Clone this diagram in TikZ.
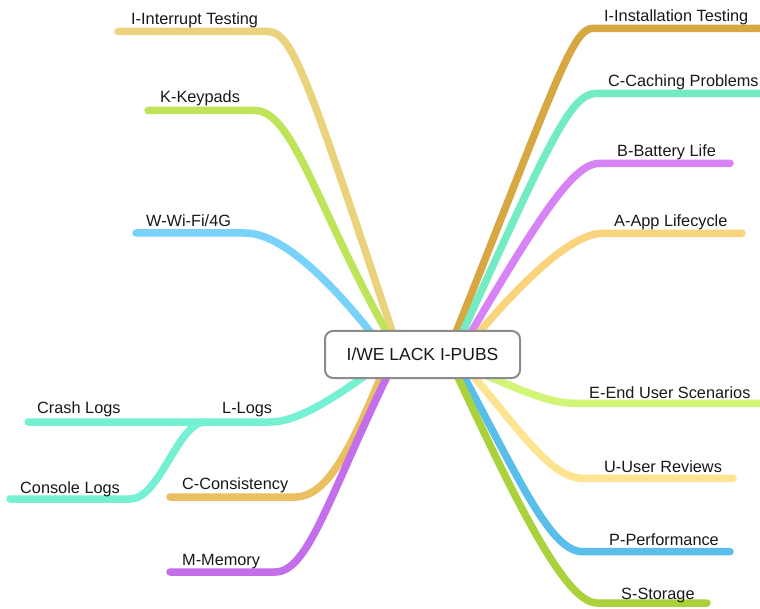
\documentclass[tikz,border=0pt]{standalone}
\usepackage{fontspec}
\setmainfont{Liberation Sans}
\definecolor{cInt}{HTML}{EBD27D}
\definecolor{cKey}{HTML}{BEE45A}
\definecolor{cWifi}{HTML}{78D2FA}
\definecolor{cLog}{HTML}{76F0D2}
\definecolor{cCons}{HTML}{EBBE5F}
\definecolor{cMem}{HTML}{C36EEB}
\definecolor{cInst}{HTML}{D7A841}
\definecolor{cCach}{HTML}{73EBC3}
\definecolor{cBat}{HTML}{D782F5}
\definecolor{cApp}{HTML}{FAD47D}
\definecolor{cEnd}{HTML}{D2F578}
\definecolor{cRev}{HTML}{FDE491}
\definecolor{cPerf}{HTML}{5ABEEB}
\definecolor{cStor}{HTML}{AAD23C}
\definecolor{cBorder}{HTML}{8C8C8C}
\begin{document}
\begin{tikzpicture}[x=1pt,y=-1pt,
  br/.style={line width=7.5pt,line cap=round,line join=round},
  lbl/.style={anchor=base west,inner sep=0pt,font=\fontsize{16.3}{19}\selectfont,text=black!90},
  rootbox/.style={draw=cBorder,line width=2pt,fill=white,rounded corners=8pt,
    minimum width=195pt,minimum height=47pt,inner sep=0pt,
    font=\fontsize{17.5}{21}\selectfont,text=black!90}]
\clip (0,0) rectangle (760,609);
\fill[white] (0,0) rectangle (760,609);
% ---------- left branches ----------
\coordinate (intT) at (118,31.5); \coordinate (intE) at (268,31.5); \coordinate (intS) at (400,355);
\draw[br,cInt] (intT) -- (intE) .. controls (293,31.5) and (310,85) .. (intS);
\coordinate (keyT) at (148,110.5); \coordinate (keyE) at (255,110.5); \coordinate (keyS) at (400,355);
\draw[br,cKey] (keyT) -- (keyE) .. controls (295,110.5) and (320,220) .. (keyS);
\coordinate (wifT) at (136,233); \coordinate (wifE) at (245,233); \coordinate (wifS) at (392,360);
\draw[br,cWifi] (wifT) -- (wifE) .. controls (285,233) and (340,290) .. (wifS);
\coordinate (crashT) at (28,422); \coordinate (logJ) at (205,422); \coordinate (logE) at (270,422); \coordinate (logS) at (400,350);
\draw[br,cLog] (crashT) -- (logJ) -- (logE) .. controls (300,422) and (340,395) .. (logS);
\coordinate (conT) at (10,499); \coordinate (conE) at (130,499);
\draw[br,cLog] (conT) -- (conE) .. controls (160,499) and (178,422) .. (logJ);
\coordinate (consT) at (170,497); \coordinate (consE) at (295,497); \coordinate (consS) at (392,350);
\draw[br,cCons] (consT) -- (consE) .. controls (330,497) and (355,440) .. (consS);
\coordinate (memT) at (170,572); \coordinate (memE) at (275,572); \coordinate (memS) at (400,350);
\draw[br,cMem] (memT) -- (memE) .. controls (310,572) and (330,490) .. (memS);
% ---------- right branches ----------
\coordinate (insT) at (775,28.3); \coordinate (insE) at (593,28.3); \coordinate (insS) at (445,360);
\draw[br,cInst] (insT) -- (insE) .. controls (572,28.3) and (555,85) .. (insS);
\coordinate (cacT) at (775,93.3); \coordinate (cacE) at (597,93.3); \coordinate (cacS) at (450,360);
\draw[br,cCach] (cacT) -- (cacE) .. controls (570,93.3) and (550,140) .. (cacS);
\coordinate (batT) at (730,163.3); \coordinate (batE) at (600,163.3); \coordinate (batS) at (455,360);
\draw[br,cBat] (batT) -- (batE) .. controls (575,163.3) and (545,205) .. (batS);
\coordinate (appT) at (742,233.3); \coordinate (appE) at (603,233.3); \coordinate (appS) at (460,355);
\draw[br,cApp] (appT) -- (appE) .. controls (575,233.3) and (530,270) .. (appS);
\coordinate (endT) at (775,403.3); \coordinate (endE) at (575,403.3); \coordinate (endS) at (450,360);
\draw[br,cEnd] (endT) -- (endE) .. controls (545,403.3) and (510,385) .. (endS);
\coordinate (revT) at (733,478.3); \coordinate (revE) at (583,478.3); \coordinate (revS) at (460,360);
\draw[br,cRev] (revT) -- (revE) .. controls (550,478.3) and (520,430) .. (revS);
\coordinate (perT) at (730,551.7); \coordinate (perE) at (583,551.7); \coordinate (perS) at (455,360);
\draw[br,cPerf] (perT) -- (perE) .. controls (550,551.7) and (520,480) .. (perS);
\coordinate (stoT) at (707,603) ; \coordinate (stoE) at (597,603); \coordinate (stoS) at (450,360);
\draw[br,cStor] (stoT) -- (stoE) .. controls (565,603) and (515,500) .. (stoS);
% ---------- root ----------
\node[rootbox] (root) at (422.5,354.5) {I/WE LACK I-PUBS};
% ---------- labels ----------
\node[lbl] (lInt) at (131,25) {I-Interrupt Testing};
\node[lbl] (lKey) at (160,103) {K-Keypads};
\node[lbl] (lWifi) at (146,226.5) {W-Wi-Fi/4G};
\node[lbl] (lLog) at (222,413) {L-Logs};
\node[lbl] (lCrash) at (37,413) {Crash Logs};
\node[lbl] (lCon) at (20,493) {Console Logs};
\node[lbl] (lCons) at (182,489) {C-Consistency};
\node[lbl] (lMem) at (182,565) {M-Memory};
\node[lbl] (lIns) at (604,22) {I-Installation Testing};
\node[lbl] (lCac) at (608,87) {C-Caching Problems};
\node[lbl] (lBat) at (617,157) {B-Battery Life};
\node[lbl] (lApp) at (614,226.5) {A-App Lifecycle};
\node[lbl] (lEnd) at (589,398) {E-End User Scenarios};
\node[lbl] (lRev) at (604,472.5) {U-User Reviews};
\node[lbl] (lPer) at (609,545) {P-Performance};
\node[lbl] (lSto) at (621,599) {S-Storage};
\end{tikzpicture}
\end{document}
